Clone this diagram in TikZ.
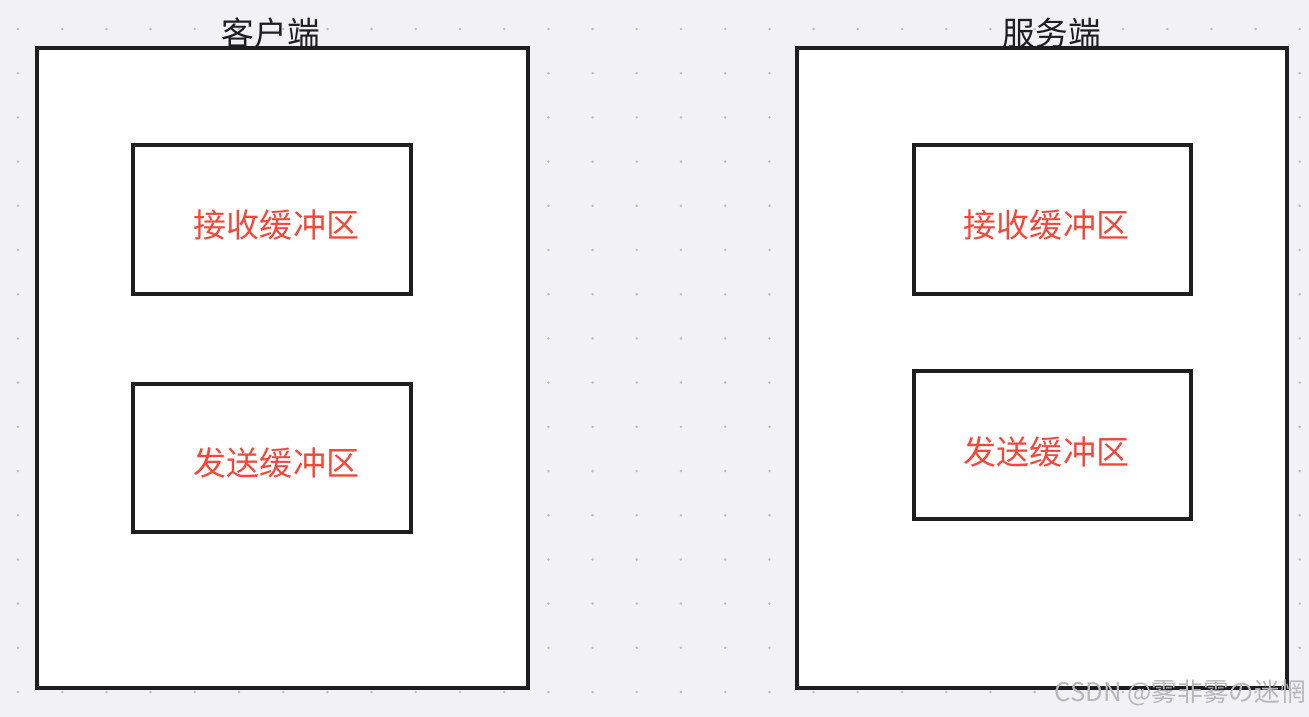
\documentclass[tikz,border=0pt]{standalone}
\usepackage{fontspec}
\usepackage{tikz}
\usetikzlibrary{positioning,calc}
\usepackage{xcolor}
\newfontfamily\cjk{Noto Sans CJK SC}
\definecolor{canvasbg}{HTML}{F2F2F4}
\definecolor{griddot}{HTML}{BDBDC2}
\definecolor{linedark}{HTML}{1E1E1E}
\definecolor{bufred}{HTML}{F2483B}
\tikzset{
hostbox/.style={rectangle,draw=linedark,line width=0.08cm,fill=white,
  minimum width=9.82cm,minimum height=12.8cm,inner sep=0pt},
bufbox/.style={rectangle,draw=linedark,line width=0.08cm,fill=white,
  minimum width=5.56cm,minimum height=2.98cm,inner sep=0pt},
buflbl/.style={text=bufred,inner sep=0pt,font=\cjk\fontsize{18.8pt}{20pt}\selectfont},
hosttitle/.style={text=linedark,inner sep=0pt,font=\cjk\fontsize{18.6pt}{20pt}\selectfont},
markstyle/.style={text=black!28,inner sep=0pt,font=\cjk\fontsize{14.6pt}{16pt}\selectfont}
}
\begin{document}
\begin{tikzpicture}[x=0.02cm,y=-0.02cm]
\fill[canvasbg] (0,0) rectangle (1309,717);
\useasboundingbox (0,0) rectangle (1309,717);
% dotted canvas
\foreach \i in {0,...,29}
  \foreach \j in {0,...,15}
    \fill[griddot] ({18+44.2*\i},{29+44.2*\j}) circle (1.4);
% client side
\node[hostbox] (client) at (282.5,368) {};
\node[hosttitle] (clientlbl) at (271,33) {客户端};
\node[bufbox] (crecv) at (272,219.5) {};
\node[buflbl] (crecvlbl) at (276.5,225) {接收缓冲区};
\node[bufbox] (csend) at (272,458) {};
\node[buflbl] (csendlbl) at (276.5,463) {发送缓冲区};
% server side
\node[hostbox] (server) at (1042,368) {};
\node[hosttitle] (serverlbl) at (1052,33) {服务端};
\node[bufbox] (srecv) at (1052.5,219.5) {};
\node[buflbl] (srecvlbl) at (1046.5,225) {接收缓冲区};
\node[bufbox] (ssend) at (1052.5,445) {};
\node[buflbl] (ssendlbl) at (1046.5,452) {发送缓冲区};
\node[markstyle,anchor=east] (wmark) at (1306,693) {CSDN @雾非雾の迷惘};
\end{tikzpicture}
\end{document}
